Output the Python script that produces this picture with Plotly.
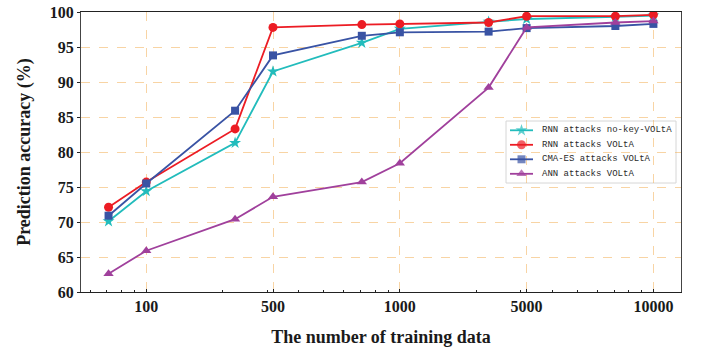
import plotly.graph_objects as go

# Positions of the training-set sizes on the log axis
x_positions = [71, 100, 224, 316, 708, 1000, 2239, 3162, 7079, 10000]

# Axis tick positions and their labels
tick_positions = [100, 316.2, 1000, 3162, 10000]
tick_labels = ["100", "500", "1000", "5000", "10000"]

# Prediction accuracy (%) for each attack
rnn_nokey = [70.1, 74.4, 81.3, 91.5, 95.6, 97.6, 98.6, 99.0, 99.3, 99.5]
rnn_volta = [72.1, 75.7, 83.3, 97.8, 98.2, 98.3, 98.5, 99.4, 99.4, 99.6]
cma_volta = [70.9, 75.5, 85.9, 93.8, 96.6, 97.1, 97.2, 97.7, 98.0, 98.3]
ann_volta = [62.6, 65.9, 70.4, 73.6, 75.7, 78.4, 89.2, 97.8, 98.5, 98.7]

series = [
    ("RNN attacks no-key-VOLtA", rnn_nokey, "#22bcbc", "star", 9),
    ("RNN attacks VOLtA", rnn_volta, "#ec1c24", "circle", 9),
    ("CMA-ES attacks VOLtA", cma_volta, "#3953a4", "square", 8),
    ("ANN attacks VOLtA", ann_volta, "#a0409c", "triangle-up", 9),
]

W, H = 702, 348
M = dict(l=81, r=21, t=12, b=56)
PW, PH = W - M["l"] - M["r"], H - M["t"] - M["b"]


def fx(px):
    """Pixel column -> fraction of the plot area width."""
    return (px - M["l"]) / PW


def fy(py):
    """Pixel row -> fraction of the plot area height (bottom = 0)."""
    return (H - M["b"] - py) / PH


fig = go.Figure()
for name, vals, color, symbol, size in series:
    fig.add_trace(go.Scatter(
        x=x_positions, y=vals, name=name, mode="lines+markers",
        line=dict(color=color, width=1.8),
        marker=dict(color=color, symbol=symbol, size=size, line=dict(width=0)),
        showlegend=False,
    ))

# Compact legend drawn on an overlay axis spanning the plot area
leg_left, leg_right, leg_top, leg_bottom = 506, 676, 121, 183
row_first, row_step = 130.3, 14.5
key_x0, key_x1, text_x = 510, 533, 540

fig.add_shape(type="rect", xref="paper", yref="paper",
              x0=fx(leg_left), x1=fx(leg_right), y0=fy(leg_bottom), y1=fy(leg_top),
              fillcolor="rgba(255,255,255,0.92)", line=dict(color="#d6d6d6", width=1),
              layer="between")

for i, (name, vals, color, symbol, size) in enumerate(series):
    row = fy(row_first + i * row_step)
    fig.add_trace(go.Scatter(
        x=[fx(key_x0), fx((key_x0 + key_x1) / 2), fx(key_x1)], y=[row, row, row],
        xaxis="x2", yaxis="y2", mode="lines+markers", showlegend=False,
        hoverinfo="skip",
        line=dict(color=color, width=1.8),
        marker=dict(color=color, symbol=symbol, size=[0, size, 0], line=dict(width=0)),
    ))
    fig.add_annotation(text=name, xref="paper", yref="paper",
                       x=fx(text_x), y=row, xanchor="left", yanchor="middle",
                       showarrow=False,
                       font=dict(family="Liberation Mono", size=9, color="#2a2a2a"))

serif = "Liberation Serif"
grid_color = "rgba(242,176,90,0.55)"

minor_vals = [m * 10 ** k for k in (1, 2, 3) for m in range(2, 10)]

fig.update_xaxes(
    type="log", range=[1.7426, 4.1088], automargin=False,
    tickmode="array", tickvals=tick_positions, ticktext=tick_labels,
    tickfont=dict(family=serif, size=16, color="#1a1a1a", weight="bold"),
    ticks="inside", ticklen=3, tickcolor="#222", ticklabelstandoff=0,
    minor=dict(tickmode="array", tickvals=minor_vals, ticks="inside",
               ticklen=2, tickcolor="#222", showgrid=False),
    showgrid=True, gridcolor=grid_color, griddash="dash", gridwidth=1,
    showline=True, linecolor="#222", linewidth=1.3, mirror=True,
    zeroline=False,
    title=dict(text="The number of training data",
               font=dict(family=serif, size=18, color="#1a1a1a", weight="bold"),
               standoff=16),
)
fig.update_yaxes(
    range=[60, 100], dtick=5, automargin=False,
    tickfont=dict(family=serif, size=16, color="#1a1a1a", weight="bold"),
    ticks="outside", ticklen=3, tickcolor="#222",
    showgrid=True, gridcolor=grid_color, griddash="dash", gridwidth=1,
    showline=True, linecolor="#444", linewidth=1.3, mirror=True,
    zeroline=False,
    title=dict(text="Prediction accuracy (%)",
               font=dict(family=serif, size=18, color="#1a1a1a", weight="bold"),
               standoff=14),
)

fig.update_layout(
    width=W, height=H,
    margin=M,
    paper_bgcolor="white", plot_bgcolor="white",
    showlegend=False,
    xaxis2=dict(overlaying="x", range=[0, 1], visible=False, fixedrange=True,
                automargin=False),
    yaxis2=dict(overlaying="y", range=[0, 1], visible=False, fixedrange=True,
                automargin=False),
)

fig.write_html("out.html")
